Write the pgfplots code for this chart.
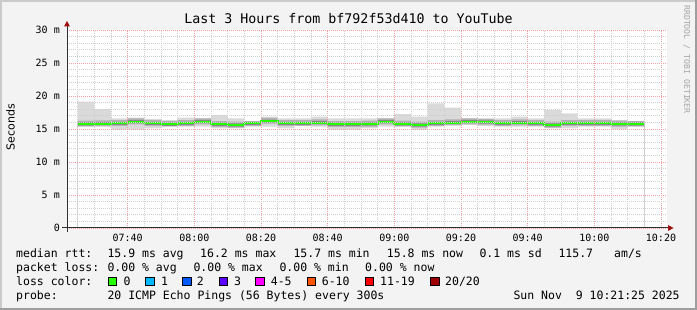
\documentclass[border=0pt]{standalone}
\usepackage{fontspec}
\setmainfont{DejaVu Sans}
\setsansfont{DejaVu Sans}
\setmonofont{DejaVu Sans Mono}
\usepackage{pgfplots}
\usepackage{pgfplotstable}
\pgfplotsset{compat=1.18}
\definecolor{bgc}{HTML}{F3F3F3}
\definecolor{shadea}{HTML}{CBCBCB}
\definecolor{shadeb}{HTML}{9E9E9E}
\definecolor{mgrid}{HTML}{F0A0A0}
\definecolor{ngrid}{HTML}{CFCFCF}
\definecolor{axisc}{HTML}{303030}
\definecolor{arrowc}{HTML}{A01010}
\definecolor{smokeA}{HTML}{DADADA}
\definecolor{smokeB}{HTML}{B0B0B0}
\definecolor{smokeC}{HTML}{747474}
\definecolor{loss0}{HTML}{26FF00}
\definecolor{loss1}{HTML}{00B8FF}
\definecolor{loss2}{HTML}{0059FF}
\definecolor{loss3}{HTML}{5E00FF}
\definecolor{loss4}{HTML}{FF00FF}
\definecolor{loss6}{HTML}{FF5500}
\definecolor{loss11}{HTML}{FF0000}
\definecolor{loss20}{HTML}{A10000}

\pgfplotstableread{
t   min   q10   q25   q75   q90   max   med
25  15.35 15.36 15.56 15.96 16.26 19.14 15.76
30  15.35 15.40 15.60 16.00 16.30 18.03 15.80
35  14.85 15.46 15.66 16.06 16.36 16.62 15.86
40  14.85 15.70 15.90 16.30 16.60 16.72 16.10
45  15.10 15.46 15.66 16.06 16.36 16.52 15.86
50  15.35 15.35 15.51 15.91 16.21 16.36 15.71
55  15.35 15.46 15.66 16.06 16.36 16.72 15.86
60  15.35 15.70 15.90 16.30 16.60 16.62 16.10
65  15.10 15.31 15.51 15.91 16.21 17.12 15.71
70  15.10 15.21 15.41 15.81 16.11 16.62 15.61
75  15.35 15.46 15.66 16.06 16.21 16.21 15.86
80  15.35 15.80 16.00 16.40 16.70 16.87 16.20
85  15.10 15.46 15.66 16.06 16.36 16.62 15.86
90  15.45 15.46 15.66 16.06 16.36 16.62 15.86
95  15.35 15.56 15.76 16.16 16.46 16.87 15.96
100 14.85 15.31 15.51 15.91 16.21 16.62 15.71
105 14.85 15.31 15.51 15.91 16.21 16.62 15.71
110 15.10 15.36 15.56 15.96 16.26 16.62 15.76
115 15.35 15.70 15.90 16.30 16.60 16.62 16.10
120 15.35 15.36 15.56 15.96 16.26 17.27 15.76
125 14.85 15.21 15.41 15.81 16.11 16.87 15.61
130 15.35 15.46 15.66 16.06 16.36 18.89 15.86
135 15.51 15.56 15.76 16.16 16.46 18.23 15.96
140 15.61 15.70 15.90 16.30 16.60 16.62 16.10
145 15.45 15.65 15.85 16.25 16.55 16.62 16.05
150 15.35 15.46 15.66 16.06 16.36 16.62 15.86
155 15.35 15.56 15.76 16.16 16.46 16.87 15.96
160 15.35 15.46 15.66 16.06 16.36 16.62 15.86
165 15.10 15.21 15.41 15.81 16.11 17.88 15.61
170 15.10 15.46 15.66 16.06 16.36 17.37 15.86
175 15.35 15.46 15.66 16.06 16.36 16.62 15.86
180 15.35 15.46 15.66 16.06 16.36 16.62 15.86
185 14.95 15.36 15.56 15.96 16.26 16.36 15.76
190 15.35 15.36 15.56 15.96 16.21 16.21 15.76
195 15.35 15.36 15.56 15.96 16.21 16.21 15.76
}\smoke

\newcommand{\tickfont}{\ttfamily\fontsize{10bp}{12bp}\selectfont}
\newcommand{\legfont}{\ttfamily\fontsize{11.5bp}{14bp}\selectfont}

\begin{document}
\begin{tikzpicture}
% background and 3D frame
\fill[bgc] (0,0) rectangle (697bp,310bp);
\fill[shadea] (0,0) rectangle (2bp,310bp);
\fill[shadea] (0,308bp) rectangle (697bp,310bp);
\fill[shadeb] (695bp,0) rectangle (697bp,310bp);
\fill[shadeb] (0,0) rectangle (697bp,2bp);

\begin{axis}[
  at={(67bp,82bp)}, anchor=south west,
  scale only axis, width=600bp, height=198bp,
  xmin=21.8, xmax=201.8, ymin=0, ymax=30,
  axis background/.style={fill=white},
  axis line style={draw=none},
  xtick={40,60,...,200},
  xticklabels={07:40,08:00,08:20,08:40,09:00,09:20,09:40,10:00,10:20},
  ytick={0,5,...,30},
  yticklabels={0,5 m,10 m,15 m,20 m,25 m,30 m},
  minor xtick={25,30,...,200},
  minor ytick={1,2,...,29},
  grid=both,
  major grid style={draw=mgrid, line width=0.8bp, dash pattern=on 1bp off 1bp},
  minor grid style={draw=ngrid, line width=0.8bp, dash pattern=on 1bp off 1bp},
  major tick length=0pt, minor tick length=0pt,
  axis on top,
  xticklabel style={font=\tickfont, anchor=north, inner sep=0pt, yshift=-6bp},
  yticklabel style={font=\tickfont, anchor=east, inner sep=0pt, xshift=-7bp},
]
\addplot[const plot, fill=smokeA, draw=none] table[x=t, y=max] {\smoke} \closedcycle;
\addplot[const plot, fill=smokeB, draw=none] table[x=t, y=q90] {\smoke} \closedcycle;
\addplot[const plot, fill=smokeC, draw=none] table[x=t, y=q75] {\smoke} \closedcycle;
\addplot[const plot, fill=smokeB, draw=none] table[x=t, y=q25] {\smoke} \closedcycle;
\addplot[const plot, fill=smokeA, draw=none] table[x=t, y=q10] {\smoke} \closedcycle;
\addplot[const plot, fill=white, draw=none] table[x=t, y=min] {\smoke} \closedcycle;
\addplot[const plot, draw=loss0, line width=2bp] table[x=t, y=med] {\smoke};
\end{axis}

% axes with arrows
\draw[axisc, line width=1bp] (62bp,82bp) -- (669bp,82bp);
\fill[arrowc] (668bp,85bp) -- (673.5bp,82bp) -- (668bp,79bp) -- cycle;
\draw[axisc, line width=1bp] (67bp,78bp) -- (67bp,284bp);
\fill[arrowc] (64bp,283.5bp) -- (67bp,289bp) -- (70bp,283.5bp) -- cycle;

% title and labels
\node[anchor=base, inner sep=0pt, font=\ttfamily\fontsize{13.3bp}{16bp}\selectfont] at (348.5bp,286.7bp) {Last 3 Hours from bf792f53d410 to YouTube};
\node[rotate=90, inner sep=0pt, font=\sffamily\fontsize{11bp}{13bp}\selectfont] at (10.5bp,183bp) {Seconds};
\node[rotate=-90, anchor=west, inner sep=0pt, text=black!35, font=\ttfamily\fontsize{8.2bp}{10bp}\selectfont] at (686.7bp,305bp) {RRDTOOL / TOBI OETIKER};

\begin{scope}[every node/.style={anchor=base west, inner sep=0pt, font=\legfont}]
% line 1
\node at (16bp,52.3bp) {median rtt:};
\node at (107.3bp,52.3bp) {15.9 ms avg};
\node at (200bp,52.3bp) {16.2 ms max};
\node at (293.3bp,52.3bp) {15.7 ms min};
\node at (386.7bp,52.3bp) {15.8 ms now};
\node at (479.3bp,52.3bp) {0.1 ms sd};
\node at (558.3bp,52.3bp) {115.7};
\node at (614bp,52.3bp) {am/s};
% line 2
\node at (16bp,38.3bp) {packet loss:};
\node at (107.3bp,38.3bp) {0.00 \% avg};
\node at (193.3bp,38.3bp) {0.00 \% max};
\node at (279.3bp,38.3bp) {0.00 \% min};
\node at (365bp,38.3bp) {0.00 \% now};
% line 3
\node at (16bp,24.3bp) {loss color:};
\node at (123.3bp,24.3bp) {0};
\node at (161bp,24.3bp) {1};
\node at (196.7bp,24.3bp) {2};
\node at (234bp,24.3bp) {3};
\node at (270.7bp,24.3bp) {4-5};
\node at (321.7bp,24.3bp) {6-10};
\node at (380bp,24.3bp) {11-19};
\node at (445bp,24.3bp) {20/20};
% line 4
\node at (16bp,10.3bp) {probe:};
\node at (107.3bp,10.3bp) {20 ICMP Echo Pings (56 Bytes) every 300s};
\node at (513.3bp,10.3bp) {Sun Nov\ \ 9 10:21:25 2025};
\end{scope}
\foreach \xx/\cc in {108.3/loss0,145.7/loss1,182.7/loss2,219.3/loss3,255.7/loss4,307.3/loss6,365/loss11,430.7/loss20}{
  \filldraw[fill=\cc, draw=black, line width=0.8bp] (\xx bp,24.5bp) rectangle ++(8.5bp,8.5bp);
}

\pgfresetboundingbox
\path[use as bounding box] (0,0) rectangle (697bp,310bp);
\end{tikzpicture}
\end{document}
